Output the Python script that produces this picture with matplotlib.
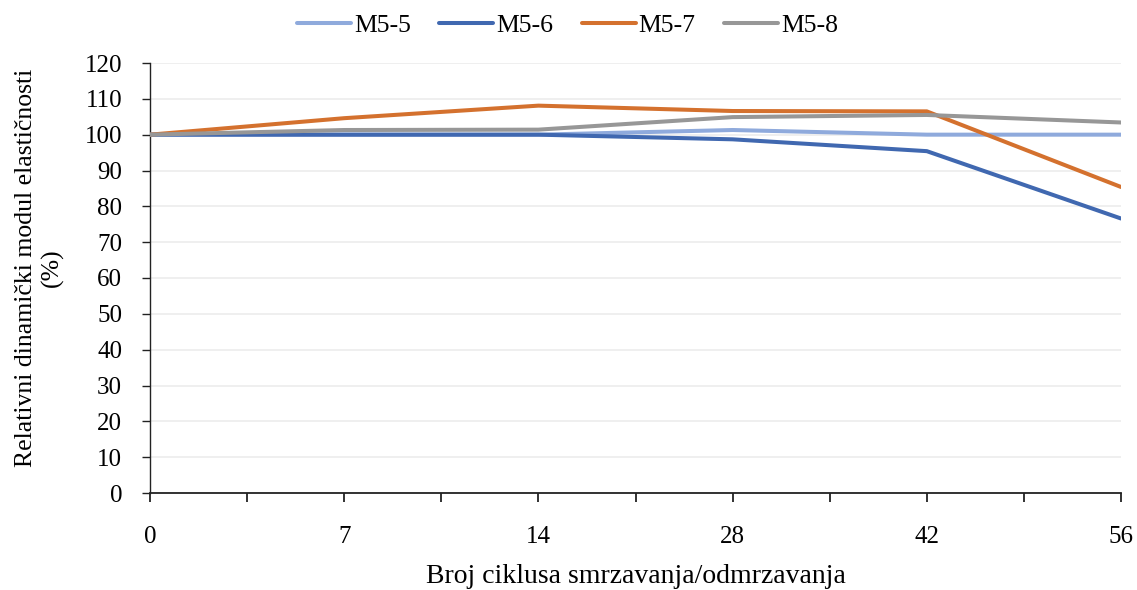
import numpy as np
import matplotlib
matplotlib.use("Agg")
import matplotlib.pyplot as plt

plt.rcParams['font.family'] = ['Liberation Serif', 'DejaVu Serif']

# freeze-thaw cycles (categorical x axis)
cycles = ["0", "7", "14", "28", "42", "56"]
m5_5 = [100, 100, 100, 101.3, 100, 100]
m5_6 = [100, 100, 100, 98.7, 95.4, 76.6]
m5_7 = [100, 104.6, 108.1, 106.6, 106.5, 85.4]
m5_8 = [100, 101.3, 101.4, 104.9, 105.5, 103.4]

series = [("M5-5", m5_5, "#8faadc"),
          ("M5-6", m5_6, "#4068b0"),
          ("M5-7", m5_7, "#d4712e"),
          ("M5-8", m5_8, "#979797")]

fig = plt.figure(figsize=(11.37, 5.9), dpi=100)
ax = fig.add_axes([150 / 1137, 1 - 493 / 590, (1121 - 150) / 1137, (493 - 63) / 590])

x = np.arange(len(cycles))
for name, vals, col in series:
    ax.plot(x, vals, color=col, lw=2.9, label=name, solid_capstyle='round', zorder=3)

ax.set_xlim(0, len(cycles) - 1)
ax.set_ylim(0, 120)
ax.set_yticks(np.arange(0, 121, 10))
ax.set_xticks(x)
ax.set_xticklabels(cycles)
ax.set_xticks(x[:-1] + 0.5, minor=True)

ax.grid(axis='y', color='#eeeeee', lw=1.3, zorder=0)
for s in ['top', 'right']:
    ax.spines[s].set_visible(False)
ax.spines['left'].set_color('#222222')
ax.spines['bottom'].set_color('#222222')
ax.spines['left'].set_linewidth(1.0)
ax.spines['bottom'].set_linewidth(1.3)

ax.tick_params(axis='y', labelsize=18, length=6, width=1, color='#222222', pad=14)
ax.tick_params(axis='x', which='both', labelsize=18, length=6.5, width=1.3, color='#222222', pad=17)

ax.set_xlabel("Broj ciklusa smrzavanja/odmrzavanja", fontsize=20, va='center')
ax.xaxis.set_label_coords(0.5, -0.195)
ax.set_ylabel("Relativni dinamički modul elastičnosti\n(%)", fontsize=18.5,
              linespacing=1.25, va='center')
ax.yaxis.set_label_coords(-0.114, 0.523)

ax.legend(loc='center', bbox_to_anchor=(0.43, 1.088),
          ncol=4, frameon=False, fontsize=18.5, handlelength=2.1, handletextpad=0.12,
          columnspacing=1.1, borderaxespad=0)

fig.savefig("out.png", dpi=100)
